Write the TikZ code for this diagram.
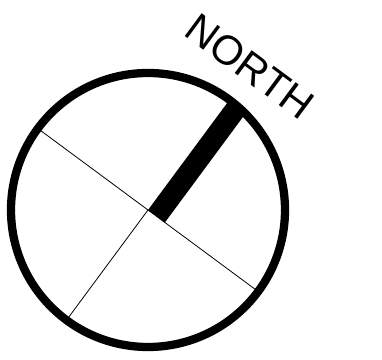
\documentclass[tikz,border=0pt]{standalone}
\usepackage{fontspec}
\setmainfont{Liberation Sans}
\usepackage{tikz}
\usetikzlibrary{calc}
\tikzset{
  rim/.style={line width=6.2pt},
  hair/.style={line width=0.6pt},
  heading/.style={font=\fontsize{31}{31}\selectfont,inner sep=0pt}
}
\begin{document}
\begin{tikzpicture}[x=0.75pt,y=0.75pt]
\useasboundingbox (0,0) rectangle (382,360);
\coordinate (c) at (148,150);
\draw[hair] ($(c)+(143.5:137)$) -- ($(c)+(-36.5:137)$);
\draw[hair] (c) -- ($(c)+(233.5:137)$);
\fill[rotate around={53.5:(c)}] (c) rectangle ++(135,-21);
\draw[rim] (c) circle (137);
\node[heading,rotate=-36.5] (north) at ($(c)+(54.5:176)$) {NORTH};
\end{tikzpicture}
\end{document}
